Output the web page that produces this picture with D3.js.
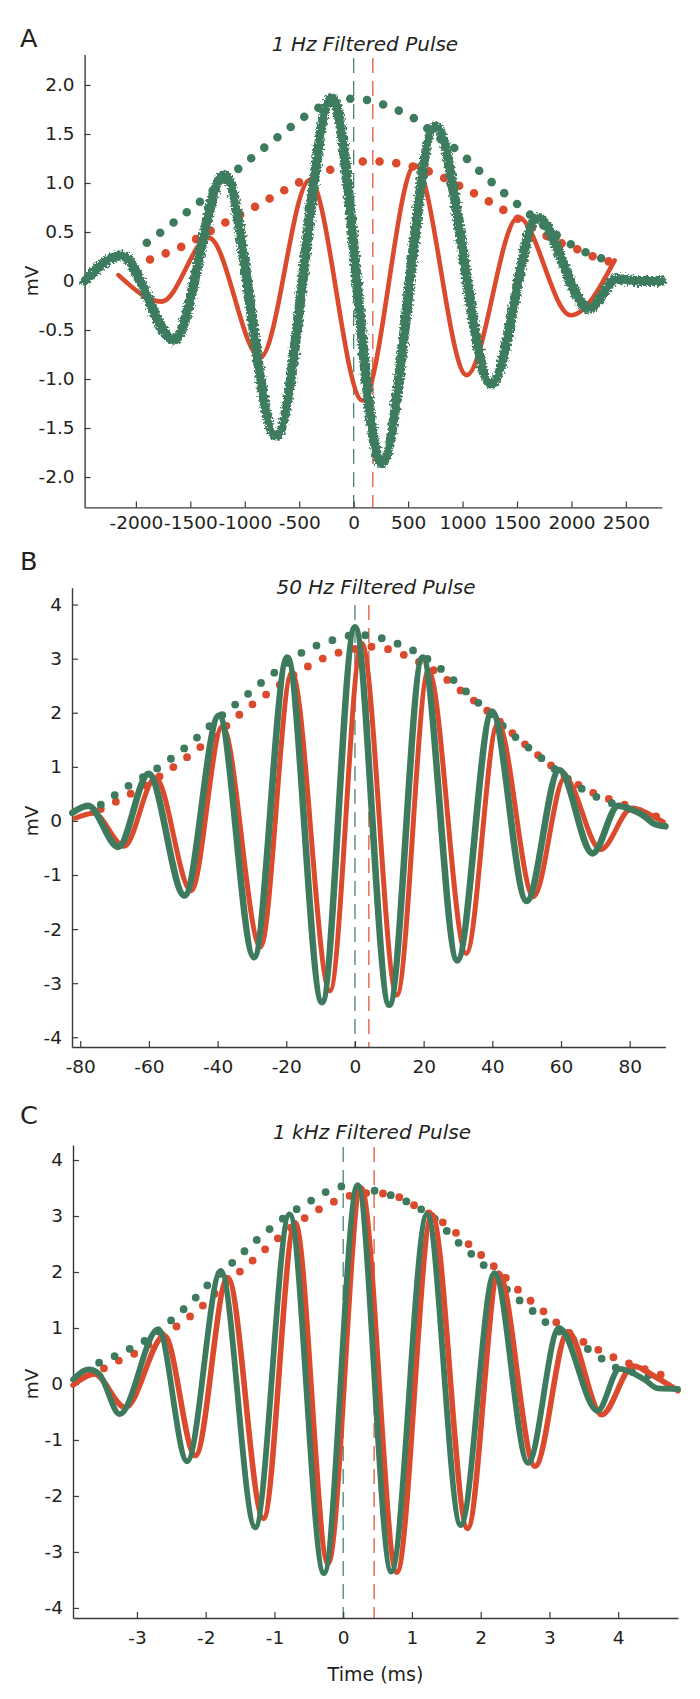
<!DOCTYPE html>
<html><head><meta charset="utf-8">
<script src="https://cdn.jsdelivr.net/npm/d3@7"></script>
<style>
body{margin:0;background:#fff}
svg{display:block}
</style>
</head><body>
<svg id="chart" width="700" height="1699"></svg>
<script>
// ---------------- DATA ----------------
// Panel A : 1 Hz filtered pulse
const aXDomain = [-2471, 2829];
const aYDomain = [-2.31, 2.31];
const aXTicks = [-2000, -1500, -1000, -500, 0, 500, 1000, 1500, 2000, 2500];
const aXLabels = ["-2000", "-1500", "-1000", "-500", "0", "500", "1000", "1500", "2000", "2500"];
const aYTicks = [2, 1.5, 1, 0.5, 0, -0.5, -1, -1.5, -2];
const aYLabels = ["2.0", "1.5", "1.0", "0.5", "0", "-0.5", "-1.0", "-1.5", "-2.0"];
const aMarks = [0, 176];
const aRed = [[-2160,0.06],[-1763,-0.21],[-1330,0.44],[-857,-0.78],[-404,1.03],[82,-1.22],[564,1.18],[1038,-0.96],[1511,0.65],[1993,-0.35],[2397,0.21]];
const aGreen = [[-2471,0.0],[-2133,0.26],[-1650,-0.60],[-1186,1.08],[-712,-1.58],[-198,1.87],[255,-1.86],[750,1.58],[1264,-1.05],[1690,0.64],[2160,-0.28],[2420,0.02],[2600,0.0],[2829,0.0]];
const aGreenEnv = [[-1900,0.39],[-1650,0.60],[-1400,0.82],[-1150,1.06],[-900,1.29],[-650,1.51],[-420,1.70],[-200,1.83],[0,1.86],[150,1.84],[300,1.79],[450,1.72],[585,1.64],[760,1.48],[956,1.33],[1186,1.09],[1421,0.86],[1650,0.65],[1850,0.48],[2017,0.36],[2155,0.28],[2280,0.23],[2400,0.21]];
const aRedEnv = [[-1870,0.22],[-1730,0.28],[-1580,0.35],[-1443,0.43],[-1173,0.60],[-901,0.76],[-631,0.93],[-494,1.01],[-203,1.14],[-40,1.19],[97,1.22],[250,1.22],[404,1.20],[710,1.11],[991,0.96],[1261,0.80],[1398,0.71],[1660,0.53],[1940,0.37],[2087,0.31],[2222,0.24],[2380,0.19]];

// Panel B : 50 Hz filtered pulse
const bXDomain = [-82.4, 90.4];
const bYDomain = [-4.18, 4.31];
const bXTicks = [-80, -60, -40, -20, 0, 20, 40, 60, 80];
const bXLabels = ["-80", "-60", "-40", "-20", "0", "20", "40", "60", "80"];
const bYTicks = [4, 3, 2, 1, 0, -1, -2, -3, -4];
const bYLabels = ["4", "3", "2", "1", "0", "-1", "-2", "-3", "-4"];
const bMarks = [0, 4.05];
const bRed = [[-81.5,0.05],[-76,0.14],[-67.2,-0.47],[-58.1,0.80],[-47.7,-1.29],[-38.6,1.75],[-27.5,-2.33],[-18.4,2.75],[-7.3,-3.14],[2.0,3.28],[12.2,-3.22],[21.4,2.78],[32.4,-2.45],[41.6,1.80],[52.0,-1.40],[61.1,0.80],[71.5,-0.53],[80.7,0.24],[85.9,0.12],[89.8,-0.02]];
const bGreen = [[-82.3,0.15],[-77.7,0.28],[-68.9,-0.48],[-60.1,0.87],[-49.6,-1.38],[-39.6,1.95],[-29.4,-2.52],[-19.7,3.02],[-9.6,-3.35],[0,3.58],[10.0,-3.40],[19.7,3.02],[29.8,-2.58],[39.9,2.02],[50.0,-1.48],[59.5,0.94],[69.2,-0.60],[76.7,0.28],[80,0.22],[84,0.10],[87,-0.05],[90.4,-0.10]];
const bGreenEnv = [[-74,0.30],[-72,0.37],[-68.5,0.55],[-64,0.72],[-56,1.04],[-48,1.43],[-41,1.83],[-33,2.25],[-26,2.62],[-20,2.90],[-15,3.13],[-10,3.27],[-5,3.37],[0,3.44],[5,3.42],[10,3.33],[15,3.21],[20,3.04],[26,2.76],[30,2.53],[37,2.12],[44,1.70],[52,1.28],[60,0.87],[68,0.52],[76,0.30],[82,0.17],[86,0.10]];
const bRedEnv = [[-74,0.22],[-72,0.28],[-64,0.55],[-56,0.86],[-48,1.22],[-40,1.62],[-32,2.05],[-24,2.42],[-16,2.77],[-8,3.04],[0,3.18],[5,3.22],[10,3.17],[16,3.02],[24,2.74],[32,2.35],[40,1.96],[48,1.50],[56,1.08],[63,0.75],[70,0.50],[77,0.34],[84,0.16],[88,0.08]];

// Panel C : 1 kHz filtered pulse
const cXDomain = [-3.93, 4.87];
const cYDomain = [-4.18, 4.27];
const cXTicks = [-3, -2, -1, 0, 1, 2, 3, 4];
const cXLabels = ["-3", "-2", "-1", "0", "1", "2", "3", "4"];
const cYTicks = [4, 3, 2, 1, 0, -1, -2, -3, -4];
const cYLabels = ["4", "3", "2", "1", "0", "-1", "-2", "-3", "-4"];
const cMarks = [0, 0.45];
const cRed = [[-3.93,-0.02],[-3.62,0.18],[-3.17,-0.42],[-2.60,0.86],[-2.15,-1.28],[-1.68,1.90],[-1.16,-2.40],[-0.70,2.88],[-0.22,-3.20],[0.26,3.50],[0.78,-3.36],[1.29,3.02],[1.81,-2.58],[2.26,1.98],[2.79,-1.47],[3.27,0.93],[3.76,-0.55],[4.22,0.32],[4.55,0.12],[4.87,-0.12]];
const cGreen = [[-3.93,0.08],[-3.70,0.26],[-3.55,0.18],[-3.25,-0.54],[-2.69,0.98],[-2.27,-1.38],[-1.78,2.02],[-1.28,-2.56],[-0.78,3.03],[-0.28,-3.38],[0.21,3.55],[0.70,-3.35],[1.22,3.03],[1.71,-2.52],[2.20,1.98],[2.69,-1.41],[3.14,1.00],[3.70,-0.48],[4.02,0.27],[4.38,0.08],[4.58,-0.08],[4.87,-0.09]];
const cGreenEnv = [[-3.55,0.38],[-3.30,0.51],[-3.07,0.65],[-2.86,0.79],[-2.48,1.16],[-2.14,1.55],[-1.97,1.77],[-1.61,2.17],[-1.25,2.58],[-0.88,2.95],[-0.46,3.28],[0,3.53],[0.46,3.45],[0.92,3.26],[1.31,2.97],[1.67,2.53],[2.03,2.14],[2.36,1.71],[2.74,1.32],[3.0,1.05],[3.3,0.82],[3.54,0.64],[3.73,0.48],[3.93,0.31],[4.2,0.22],[4.61,0.12]];
const cRedEnv = [[-3.48,0.28],[-3.26,0.42],[-3.04,0.54],[-2.62,0.88],[-2.41,1.04],[-2.04,1.40],[-1.68,1.84],[-1.49,2.02],[-1.13,2.41],[-0.75,2.80],[-0.35,3.12],[0.09,3.36],[0.35,3.41],[0.60,3.40],[0.83,3.33],[1.05,3.18],[1.48,2.86],[1.85,2.47],[2.22,2.07],[2.58,1.64],[2.96,1.25],[3.28,0.92],[3.54,0.72],[3.76,0.58],[3.98,0.45],[4.19,0.35],[4.69,0.14]];

const panelLetters = ["A", "B", "C"];
const panelTitles = ["1 Hz Filtered Pulse", "50 Hz Filtered Pulse", "1 kHz Filtered Pulse"];
const yAxisTitle = "mV";
const xAxisTitle = "Time (ms)";

// ---------------- LAYOUT / STYLE ----------------
const GREEN = "#3e7b5e", RED = "#dc4a2d", INK = "#231f20", AXIS = "#3a3a3a";
const FONT = "'DejaVu Sans', sans-serif";
const layout = [
  {x0:84.6, x1:661.7, y0:507.4, y1:54.6, letterY:47, titleX:365, titleY:51, dashTop:58, greenW:10, redW:4.6, dot:8.6, pad:8, fuzz:true},
  {x0:72, x1:665.4, y0:1047, y1:587.8, letterY:570, titleX:376, titleY:594, dashTop:605, greenW:6.6, redW:5, dot:7.8, pad:13, fuzz:false},
  {x0:73, x1:678, y0:1618, y1:1144.9, letterY:1124, titleX:372, titleY:1139, dashTop:1147, greenW:5.8, redW:5.6, dot:7.8, pad:13, fuzz:false}
];
const panels = [
  {xDomain:aXDomain, yDomain:aYDomain, xTicks:aXTicks, xLabels:aXLabels, yTicks:aYTicks, yLabels:aYLabels, marks:aMarks, red:aRed, green:aGreen, redEnv:aRedEnv, greenEnv:aGreenEnv},
  {xDomain:bXDomain, yDomain:bYDomain, xTicks:bXTicks, xLabels:bXLabels, yTicks:bYTicks, yLabels:bYLabels, marks:bMarks, red:bRed, green:bGreen, redEnv:bRedEnv, greenEnv:bGreenEnv},
  {xDomain:cXDomain, yDomain:cYDomain, xTicks:cXTicks, xLabels:cXLabels, yTicks:cYTicks, yLabels:cYLabels, marks:cMarks, red:cRed, green:cGreen, redEnv:cRedEnv, greenEnv:cGreenEnv}
];

const svg = d3.select("#chart");
svg.append("rect").attr("width", 700).attr("height", 1699).attr("fill", "#fff");

// fuzzy (noisy recording) look for the 1 Hz green trace
const defs = svg.append("defs");
const fz = defs.append("filter").attr("id", "fuzz").attr("filterUnits", "userSpaceOnUse")
  .attr("x", 0).attr("y", 0).attr("width", 700).attr("height", 1699);
fz.append("feTurbulence").attr("type", "fractalNoise").attr("baseFrequency", "0.45")
  .attr("numOctaves", 2).attr("seed", 7).attr("result", "noise");
fz.append("feDisplacementMap").attr("in", "SourceGraphic").attr("in2", "noise")
  .attr("scale", 7).attr("xChannelSelector", "R").attr("yChannelSelector", "G");

panels.forEach((p, i) => {
  const L = layout[i];
  const x = d3.scaleLinear().domain(p.xDomain).range([L.x0, L.x1]);
  const y = d3.scaleLinear().domain(p.yDomain).range([L.y0, L.y1]);
  const g = svg.append("g");

  // panel letter and title
  g.append("text").attr("x", 20).attr("y", L.letterY).text(panelLetters[i])
    .attr("font-family", FONT).attr("font-size", 25.5).attr("fill", INK);
  g.append("text").attr("x", L.titleX).attr("y", L.titleY).text(panelTitles[i])
    .attr("text-anchor", "middle").attr("font-family", FONT).attr("font-style", "italic")
    .attr("font-size", 20).attr("fill", INK);

  // dashed latency markers
  const markColors = ["#4f8470", "#e0573d"];
  p.marks.forEach((m, k) => {
    g.append("line").attr("x1", x(m)).attr("x2", x(m)).attr("y1", L.dashTop).attr("y2", L.y0)
      .attr("stroke", markColors[k]).attr("stroke-width", 1.3).attr("stroke-dasharray", "15,8");
  });

  // axes
  const xa = d3.axisBottom(x).tickValues(p.xTicks).tickFormat((d, j) => p.xLabels[j])
    .tickSizeInner(-6).tickSizeOuter(0).tickPadding(L.pad);
  const ya = d3.axisLeft(y).tickValues(p.yTicks).tickFormat((d, j) => p.yLabels[j])
    .tickSizeInner(-6).tickSizeOuter(0).tickPadding(10);
  const gx = g.append("g").attr("transform", `translate(0,${L.y0})`).call(xa);
  const gy = g.append("g").attr("transform", `translate(${L.x0},0)`).call(ya);
  [gx, gy].forEach(a => {
    a.attr("font-family", FONT).attr("font-size", 18.5);
    a.select(".domain").attr("stroke", AXIS).attr("stroke-width", 1.4);
    a.selectAll(".tick line").attr("stroke", AXIS).attr("stroke-width", 1.2);
    a.selectAll(".tick text").attr("fill", INK);
  });

  // y axis title
  g.append("text").attr("transform", `translate(38,${y(0)}) rotate(-90)`)
    .attr("text-anchor", "middle").text(yAxisTitle)
    .attr("font-family", FONT).attr("font-size", 18.5).attr("fill", INK);

  // envelopes (dotted)
  const envLine = d3.line().x(d => x(d[0])).y(d => y(d[1])).curve(d3.curveMonotoneX);
  g.append("path").attr("d", envLine(p.redEnv)).attr("fill", "none").attr("stroke", RED)
    .attr("stroke-width", L.dot).attr("stroke-linecap", "round").attr("stroke-dasharray", "0 16.8");
  g.append("path").attr("d", envLine(p.greenEnv)).attr("fill", "none").attr("stroke", GREEN)
    .attr("stroke-width", L.dot).attr("stroke-linecap", "round").attr("stroke-dasharray", "0 16.8");

  // waveforms
  const wave = d3.line().x(d => x(d[0])).y(d => y(d[1])).curve(d3.curveMonotoneX);
  g.append("path").attr("d", wave(p.red)).attr("fill", "none").attr("stroke", RED)
    .attr("stroke-width", L.redW).attr("stroke-linejoin", "round").attr("stroke-linecap", "round");
  const gp = g.append("path").attr("d", wave(p.green)).attr("fill", "none").attr("stroke", GREEN)
    .attr("stroke-width", L.greenW).attr("stroke-linejoin", "round").attr("stroke-linecap", "round");
  if (L.fuzz) gp.attr("filter", "url(#fuzz)");

  if (i === 2) {
    g.append("text").attr("x", (L.x0 + L.x1) / 2).attr("y", 1681).attr("text-anchor", "middle")
      .text(xAxisTitle).attr("font-family", FONT).attr("font-size", 19).attr("fill", INK);
  }
});
</script>
</body></html>
